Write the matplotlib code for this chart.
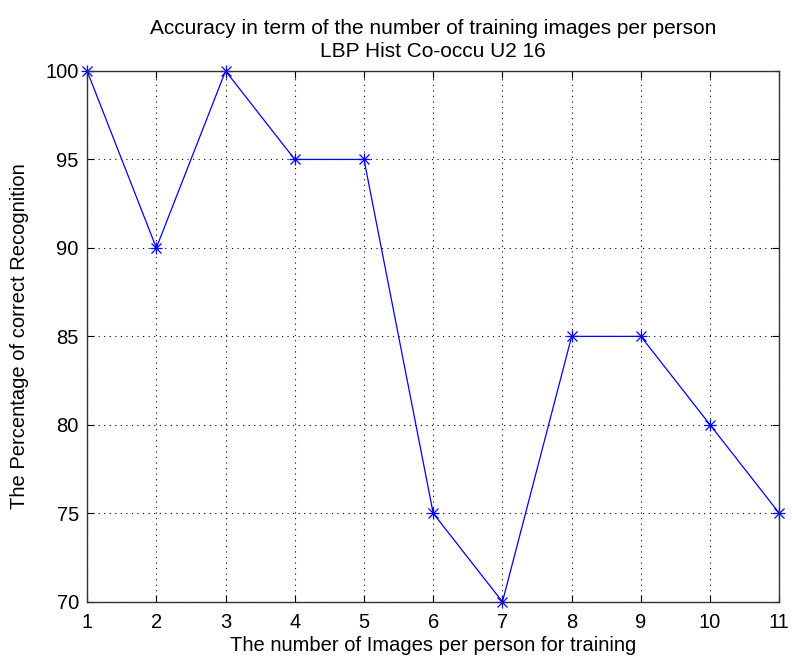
import matplotlib.pyplot as plt

plt.rcParams['font.family'] = ['Liberation Sans', 'DejaVu Sans']

images = [1, 2, 3, 4, 5, 6, 7, 8, 9, 10, 11]
accuracy = [100, 90, 100, 95, 95, 75, 70, 85, 85, 80, 75]
yticks = [70, 75, 80, 85, 90, 95, 100]

fig = plt.figure(figsize=(7.92, 6.57), dpi=100)
ax = fig.add_axes([0.110, 0.084, 0.874, 0.808])

# line, then an asterisk made of '+' and 'x'
ax.plot(images, accuracy, color="blue", linewidth=0.9, clip_on=False)
ax.plot(images, accuracy, linestyle="none", color="blue", marker="+", markersize=9,
        markeredgewidth=0.9, clip_on=False)
ax.plot(images, accuracy, linestyle="none", color="blue", marker="x", markersize=7,
        markeredgewidth=0.9, clip_on=False)

ax.set_xlim(1, 11)
ax.set_ylim(70, 100)
ax.set_xticks(images)
ax.set_yticks(yticks)
ax.tick_params(direction="in", length=5, labelsize=14.5, top=True, right=True)
ax.tick_params(axis="x", pad=8)
ax.tick_params(axis="y", pad=6)
ax.grid(True, linestyle=(0, (1, 4)), color="black", linewidth=0.8)
for s in ax.spines.values():
    s.set_linewidth(1.0)
    s.set_color("#333333")

ax.set_title("Accuracy in term of the number of training images per person\nLBP Hist Co-occu U2 16",
             fontsize=15, pad=10, linespacing=1.3)
ax.set_xlabel("The number of Images per person for training", fontsize=14.5, labelpad=3)
ax.set_ylabel("The Percentage of correct Recognition", fontsize=14.5, labelpad=12)

fig.savefig("out.png", dpi=100)
